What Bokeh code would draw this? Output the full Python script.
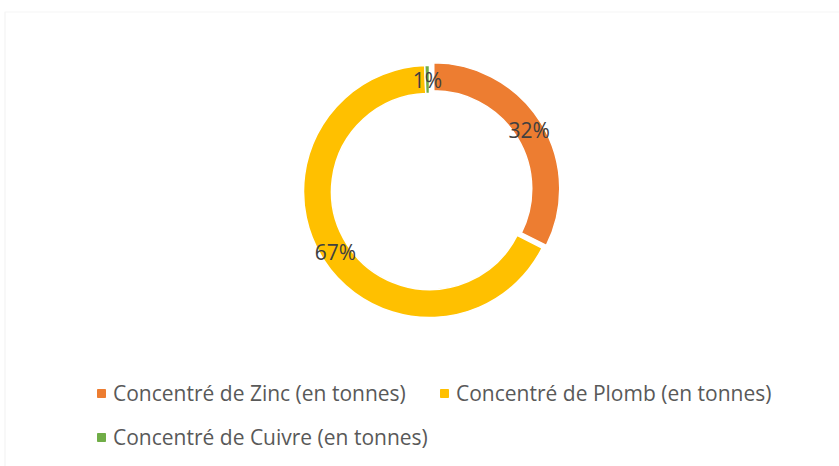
import math
from bokeh.plotting import figure
from bokeh.models import ColumnDataSource, Range1d, Legend, LegendItem, BoxAnnotation
from bokeh.core.properties import value
from bokeh.embed import file_html
from bokeh.resources import INLINE

# ---- data ----
categories = ["Concentré de Zinc (en tonnes)",
              "Concentré de Plomb (en tonnes)",
              "Concentré de Cuivre (en tonnes)"]
values = [32.4, 67.0, 0.6]
colors = ["#ED7D31", "#FFC000", "#70AD47"]
explode = [5, 0, 0]

# ---- layout ----
W, H = 839, 466
CX, CY = 429, 275
R_OUT, R_IN = 126, 98
FONT = "Open Sans"

total = sum(values)
xs, ys, starts, ends, lxs, lys, labels = [], [], [], [], [], [], []
cum = 0.0
for v, e in zip(values, explode):
    frac = v / total
    a0 = math.pi / 2 - 2 * math.pi * cum
    a1 = math.pi / 2 - 2 * math.pi * (cum + frac)
    mid = (a0 + a1) / 2
    cx = CX + e * math.cos(mid)
    cy = CY + e * math.sin(mid)
    xs.append(cx); ys.append(cy)
    starts.append(a0); ends.append(a1)
    rm = (R_OUT + R_IN) / 2
    lxs.append(cx + rm * math.cos(mid))
    lys.append(cy + rm * math.sin(mid))
    labels.append(f"{round(frac * 100)}%")
    cum += frac

src = ColumnDataSource(dict(x=xs, y=ys, start=starts, end=ends, color=colors,
                            lx=lxs, ly=lys, label=labels, name=categories))

p = figure(width=W, height=H, x_range=Range1d(0, W), y_range=Range1d(0, H),
           x_axis_type=None, y_axis_type=None, toolbar_location=None,
           output_backend="svg", min_border=0, outline_line_color=None)
p.grid.visible = False

p.add_layout(BoxAnnotation(left=4.5, right=W + 50, top=H - 11.5, bottom=-50,
                           fill_alpha=0, line_color="#D9D9D9", line_width=1.2))

p.annular_wedge(x="x", y="y", inner_radius=R_IN, outer_radius=R_OUT,
                start_angle="start", end_angle="end", direction="clock",
                fill_color="color", line_color="white", line_width=1.5, source=src)

p.text(x="lx", y="ly", text="label", source=src, text_align="center",
       text_baseline="middle", text_font=value(FONT), text_font_size="21px",
       text_color="#404040")

items = []
for name, col in zip(categories, colors):
    r = p.scatter(x=[-100], y=[-100], marker="square", size=8,
                  fill_color=col, line_color=col)
    items.append(LegendItem(label=name, renderers=[r]))

legend = Legend(items=items, location=(91, 10), orientation="horizontal", ncols=2,
                glyph_width=20, glyph_height=38, label_standoff=2,
                label_width=315, label_height=38, spacing=6,
                padding=0, margin=0, border_line_color=None,
                background_fill_alpha=0,
                label_text_font=FONT, label_text_font_size="21px",
                label_text_color="#595959")
p.add_layout(legend)

open("out.html", "w").write(file_html(p, INLINE))
